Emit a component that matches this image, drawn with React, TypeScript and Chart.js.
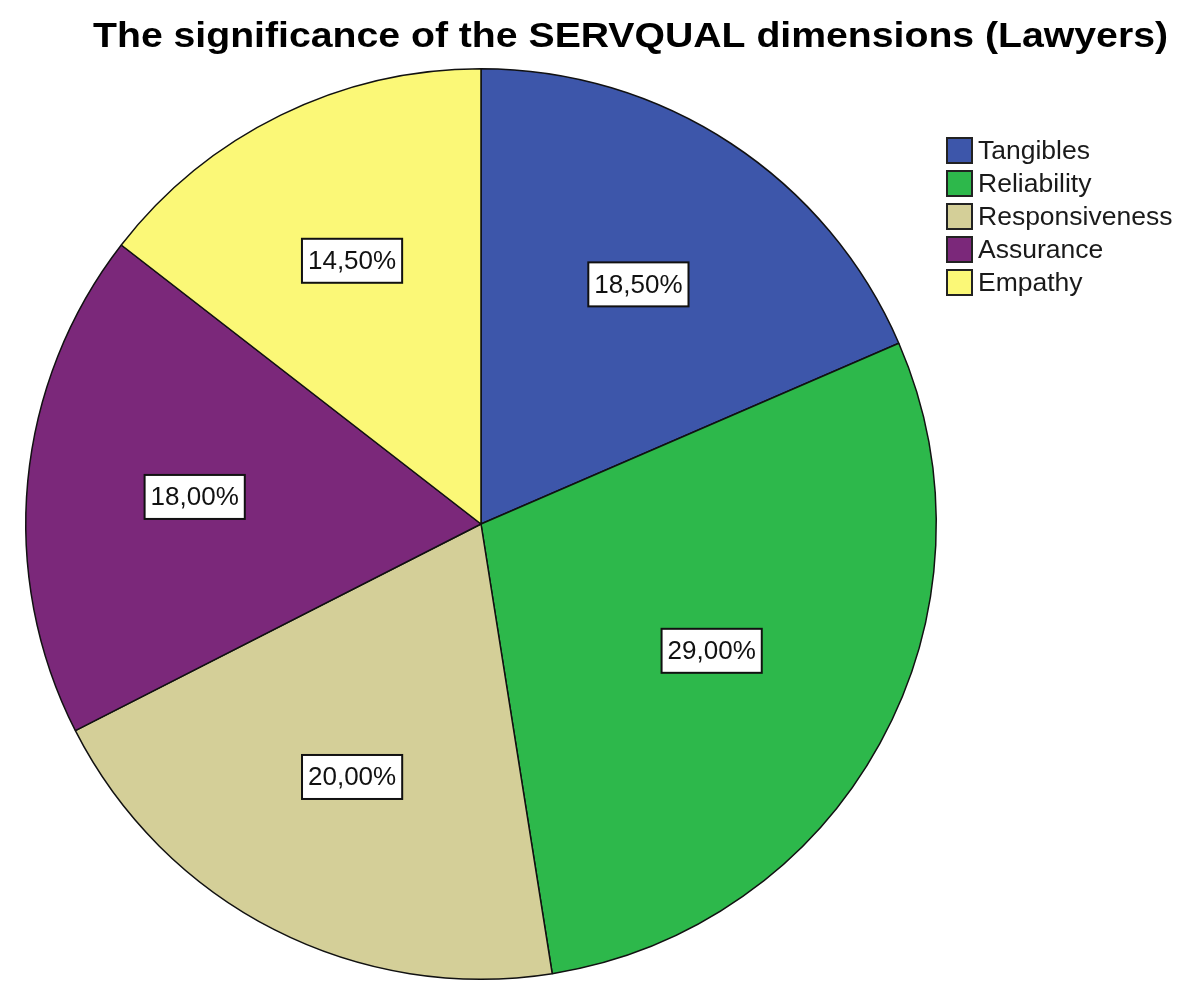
import React, { useEffect, useRef } from "react";
import { Chart, registerables } from "chart.js";

Chart.register(...registerables);

const TITLE = "The significance of the SERVQUAL dimensions (Lawyers)";
const categories = ["Tangibles", "Reliability", "Responsiveness", "Assurance", "Empathy"];
const values = [18.5, 29.0, 20.0, 18.0, 14.5];
const colors = ["#3D56AA", "#2DB84B", "#D4CF98", "#7B287A", "#FBF877"];

const FONT = '"Liberation Sans", Arial, sans-serif';

const overlayPlugin = {
  id: "overlay",
  afterDraw(chart: any) {
    const ctx = chart.ctx as CanvasRenderingContext2D;
    const meta = chart.getDatasetMeta(0);
    const data = chart.data.datasets[0].data as number[];
    const labels = chart.data.labels as string[];
    const bg = chart.data.datasets[0].backgroundColor as string[];

    // Title (slightly widened to match the reference's rendering)
    ctx.save();
    ctx.fillStyle = "#000";
    ctx.font = `bold 35px ${FONT}`;
    const tw = ctx.measureText(TITLE).width;
    const targetW = 1075;
    const sx = targetW / tw;
    ctx.translate(630.5, 47);
    ctx.scale(sx, 1);
    ctx.textAlign = "center";
    ctx.textBaseline = "alphabetic";
    ctx.fillText(TITLE, 0, 0);
    ctx.restore();

    // Value labels, placed at the centroid of each sector
    meta.data.forEach((arc: any, i: number) => {
      const p = arc.getProps(["x", "y", "startAngle", "endAngle", "outerRadius"], true);
      const theta = p.endAngle - p.startAngle;
      const mid = (p.startAngle + p.endAngle) / 2;
      const r = (4 * p.outerRadius * Math.sin(theta / 2)) / (3 * theta);
      const cx = p.x + Math.cos(mid) * r;
      const cy = p.y + Math.sin(mid) * r;
      const txt = data[i].toFixed(2).replace(".", ",") + "%";
      ctx.save();
      ctx.font = `26px ${FONT}`;
      const w = ctx.measureText(txt).width + 12;
      const h = 44;
      ctx.fillStyle = "#fff";
      ctx.fillRect(cx - w / 2, cy - h / 2, w, h);
      ctx.lineWidth = 2;
      ctx.strokeStyle = "#111";
      ctx.strokeRect(cx - w / 2, cy - h / 2, w, h);
      ctx.fillStyle = "#111";
      ctx.textAlign = "center";
      ctx.textBaseline = "middle";
      ctx.fillText(txt, cx, cy + 1);
      ctx.restore();
    });

    // Legend
    const lx = 947;
    const ly = 138;
    const step = 33;
    const box = 25;
    labels.forEach((lab, i) => {
      const y = ly + i * step;
      ctx.save();
      ctx.fillStyle = bg[i];
      ctx.fillRect(lx, y, box, box);
      ctx.lineWidth = 2;
      ctx.strokeStyle = "#222";
      ctx.strokeRect(lx, y, box, box);
      ctx.fillStyle = "#1a1a1a";
      ctx.font = `26.5px ${FONT}`;
      ctx.textAlign = "left";
      ctx.textBaseline = "middle";
      ctx.fillText(lab, lx + box + 6, y + box / 2 + 1);
      ctx.restore();
    });
  },
};

export default function App() {
  const ref = useRef<HTMLCanvasElement>(null);
  useEffect(() => {
    if (!ref.current) return;
    const chart = new Chart(ref.current, {
      type: "pie",
      data: {
        labels: categories,
        datasets: [
          {
            data: values,
            backgroundColor: colors,
            borderColor: "#111",
            borderWidth: 1.5,
          },
        ],
      },
      options: {
        responsive: false,
        animation: false,
        devicePixelRatio: 1,
        layout: { padding: { left: 25, top: 68, right: 263, bottom: 27 } },
        plugins: {
          legend: { display: false },
          title: { display: false },
          tooltip: { enabled: false },
        },
      },
      plugins: [overlayPlugin],
    });
    return () => chart.destroy();
  }, []);
  return (
    <div style={{ position: "absolute", left: 0, top: 0, width: 1200, height: 1007, background: "#fff" }}>
      <canvas ref={ref} width={1200} height={1007} style={{ width: 1200, height: 1007 }} />
    </div>
  );
}
